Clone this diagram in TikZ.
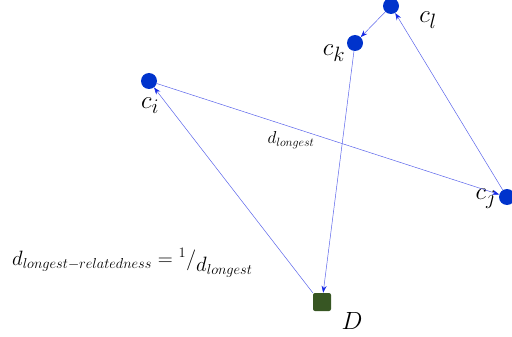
\documentclass[tikz,border=0pt]{standalone}
\usetikzlibrary{arrows.meta}
\definecolor{dotblue}{RGB}{0,51,204}
\definecolor{edgeblue}{RGB}{90,100,235}
\definecolor{tipblue}{RGB}{20,40,230}
\definecolor{dgreen}{RGB}{55,86,35}
\tikzset{
  dot/.style={circle,fill=dotblue,minimum size=16pt,inner sep=0pt},
  sq/.style={rectangle,rounded corners=2pt,fill=dgreen,minimum size=18pt,inner sep=0pt},
  conn/.style={draw=edgeblue,line width=0.5pt,-{Stealth[length=7pt,width=5pt,color=tipblue]}},
  biglab/.style={font=\fontsize{30}{34}\selectfont,inner sep=0pt},
  midlab/.style={font=\fontsize{20.5}{24}\selectfont,inner sep=0pt}
}
\begin{document}
\begin{tikzpicture}[x=1pt,y=-1pt]
\useasboundingbox (0,0) rectangle (512,337);
\clip (0,0) rectangle (512,337);
\node[dot] (cl) at (391,6) {};
\node[dot] (ck) at (355,43) {};
\node[dot] (ci) at (149,81) {};
\node[dot] (cj) at (507,197) {};
\node[sq] (D) at (322,302) {};
\node[biglab] (lcl) at (428,20) {$c_l$};
\node[biglab] (lck) at (334,53) {$c_k$};
\node[biglab] (lci) at (150,106) {$c_i$};
\node[biglab] (lcj) at (486,199) {$c_j$};
\node[biglab] (lD) at (352,321) {$D$};
\node[font=\fontsize{18}{20}\selectfont,inner sep=0pt] (ld) at (291,140) {$d_{longest}$};
\node[midlab,anchor=base west] (form) at (12,265) {$d_{longest-relatedness} = {}^{1}/\lower6pt\hbox{$d_{longest}$}$};
\draw[conn] (cl) -- (ck);
\draw[conn] (cj) -- (cl);
\draw[conn] (ck) -- (D);
\draw[conn] (D.north west) -- (ci);
\draw[conn] (ci) -- (cj);
\end{tikzpicture}
\end{document}
